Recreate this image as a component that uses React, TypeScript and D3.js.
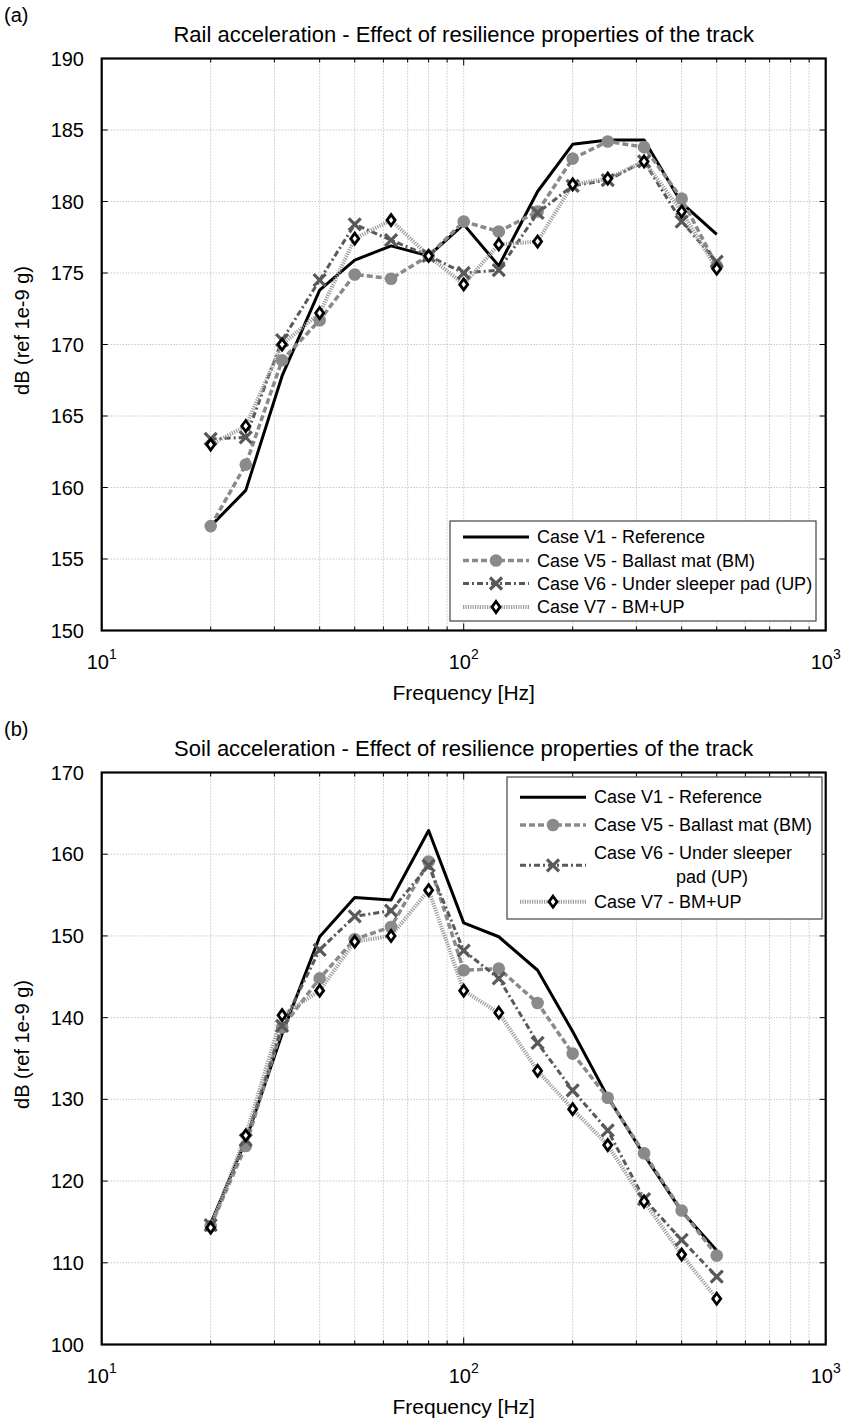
import React from 'react';
import * as d3 from 'd3';

// third-octave band centre frequencies [Hz]
const freqs = [20, 25, 31.5, 40, 50, 63, 80, 100, 125, 160, 200, 250, 315, 400, 500];

// (a) rail acceleration, dB ref 1e-9 g
const railV1 = [157.3, 159.8, 167.8, 173.8, 175.9, 176.9, 176.2, 178.4, 175.5, 180.7, 184.0, 184.3, 184.3, 179.9, 177.7];
const railV5 = [157.3, 161.6, 168.9, 171.7, 174.9, 174.6, 176.2, 178.6, 177.9, 179.3, 183.0, 184.2, 183.8, 180.2, 175.5];
const railV6 = [163.4, 163.5, 170.3, 174.5, 178.4, 177.3, 176.2, 175.0, 175.2, 179.2, 181.1, 181.5, 182.8, 178.6, 175.8];
const railV7 = [163.0, 164.3, 170.0, 172.2, 177.4, 178.7, 176.2, 174.2, 177.0, 177.2, 181.2, 181.6, 182.8, 179.3, 175.3];

// (b) soil acceleration, dB ref 1e-9 g
const soilV1 = [114.8, 125.0, 138.0, 149.9, 154.7, 154.4, 162.9, 151.6, 149.9, 145.8, 138.3, 130.3, 123.2, 116.3, 111.5];
const soilV5 = [114.5, 124.3, 138.8, 144.8, 149.6, 151.1, 159.1, 145.8, 146.0, 141.8, 135.6, 130.2, 123.4, 116.4, 110.9];
const soilV6 = [114.6, 125.0, 139.0, 148.3, 152.4, 153.1, 158.6, 148.2, 144.8, 136.9, 131.1, 126.2, 117.8, 112.8, 108.3];
const soilV7 = [114.3, 125.6, 140.3, 143.3, 149.3, 150.0, 155.6, 143.3, 140.6, 133.5, 128.8, 124.4, 117.5, 111.0, 105.6];

const railTicks = [150, 155, 160, 165, 170, 175, 180, 185, 190];
const soilTicks = [100, 110, 120, 130, 140, 150, 160, 170];
const decades = [10, 100, 1000];
const decadeExp = ['1', '2', '3'];
const minorFreqs = [20, 30, 40, 50, 60, 70, 80, 90, 200, 300, 400, 500, 600, 700, 800, 900];

const caseNames = ['Case V1 - Reference', 'Case V5 - Ballast mat (BM)', 'Case V6 - Under sleeper pad (UP)', 'Case V7 - BM+UP'];

const FONT = '"Liberation Sans", Arial, sans-serif';

// line / marker styles per case
const styles = [
  { stroke: '#000', width: 3, dash: null, marker: null },
  { stroke: '#8a8a8a', width: 3.5, dash: '6,3', marker: 'circle' },
  { stroke: '#595959', width: 3, dash: '6,3,2,3', marker: 'x' },
  { stroke: '#9c9c9c', width: 4, dash: '1.2,1.2', marker: 'diamond' },
];

const Marker = ({ kind, x, y }) => {
  if (kind === 'circle') return <circle cx={x} cy={y} r={6.3} fill="#8a8a8a" />;
  if (kind === 'x')
    return (
      <path d={`M${x - 6},${y - 6}L${x + 6},${y + 6}M${x - 6},${y + 6}L${x + 6},${y - 6}`}
        stroke="#595959" strokeWidth={3.2} fill="none" />
    );
  if (kind === 'diamond')
    return (
      <path d={`M${x},${y - 5.5}L${x + 4},${y}L${x},${y + 5.5}L${x - 4},${y}Z`}
        stroke="#000" strokeWidth={2.8} fill="#fff" />
    );
  return null;
};

const Panel = ({ top, letter, title, domain, ticks, series, legend }) => {
  const left = 101.7;
  const right = 825.7;
  const bottom = top + 572;
  const x = d3.scaleLog().domain([10, 1000]).range([left, right]);
  const y = d3.scaleLinear().domain(domain).range([bottom, top]);
  const line = d3.line<number>()
    .x((d, i) => x(freqs[i]))
    .y(d => y(d));
  const midX = (left + right) / 2;

  return (
    <g fontFamily={FONT} fill="#000">
      <text x={4} y={top - 37} fontSize={20}>{letter}</text>
      <text x={midX} y={top - 17} fontSize={22} textAnchor="middle">{title}</text>

      {/* grid */}
      {[...minorFreqs, 100].map(f => (
        <line key={'gx' + f} x1={x(f)} x2={x(f)} y1={top} y2={bottom}
          stroke="#adadad" strokeWidth={1} strokeDasharray="1,2" />
      ))}
      {ticks.map(t => (
        <line key={'gy' + t} x1={left} x2={right} y1={y(t)} y2={y(t)}
          stroke="#adadad" strokeWidth={1} strokeDasharray="1,2" />
      ))}

      {/* inward ticks */}
      {ticks.map(t => (
        <g key={'ty' + t}>
          <line x1={left} x2={left + 6} y1={y(t)} y2={y(t)} stroke="#000" strokeWidth={1} />
          <line x1={right} x2={right - 6} y1={y(t)} y2={y(t)} stroke="#000" strokeWidth={1} />
          <text x={84} y={y(t)} fontSize={20} textAnchor="end" dominantBaseline="central">{t}</text>
        </g>
      ))}
      {minorFreqs.map(f => (
        <g key={'tx' + f}>
          <line x1={x(f)} x2={x(f)} y1={bottom} y2={bottom - 4} stroke="#000" strokeWidth={1} />
          <line x1={x(f)} x2={x(f)} y1={top} y2={top + 4} stroke="#000" strokeWidth={1} />
        </g>
      ))}
      {decades.map((f, i) => (
        <g key={'dx' + f}>
          <line x1={x(f)} x2={x(f)} y1={bottom} y2={bottom - 7} stroke="#000" strokeWidth={1} />
          <line x1={x(f)} x2={x(f)} y1={top} y2={top + 7} stroke="#000" strokeWidth={1} />
          <text x={x(f)} y={bottom + 38} fontSize={20} textAnchor="middle">
            10<tspan dy={-10} fontSize={14}>{decadeExp[i]}</tspan>
          </text>
        </g>
      ))}

      {/* series */}
      {series.map((s, k) => (
        <path key={'s' + k} d={line(s)} fill="none" stroke={styles[k].stroke}
          strokeWidth={styles[k].width} strokeDasharray={styles[k].dash || undefined}
          strokeLinejoin="round" />
      ))}
      {series.map((s, k) => s.map((v, i) => (
        <Marker key={`m${k}-${i}`} kind={styles[k].marker} x={x(freqs[i])} y={y(v)} />
      )))}

      {/* frame */}
      <rect x={left} y={top} width={right - left} height={bottom - top} fill="none" stroke="#000" strokeWidth={2.2} />

      {/* legend */}
      <rect x={legend.x} y={legend.y} width={legend.w} height={legend.h} fill="#fff" stroke="#444" strokeWidth={1.2} />
      {caseNames.map((name, k) => {
        const ly = legend.rows[k];
        const lx0 = legend.x + legend.pad;
        const lx1 = lx0 + 66;
        const parts = legend.wrap && k === 2 ? ['Case V6 - Under sleeper', 'pad (UP)'] : [name];
        const lineY = parts.length > 1 ? ly + 12 : ly;
        return (
          <g key={'lg' + k}>
            <line x1={lx0} x2={lx1} y1={lineY} y2={lineY} stroke={styles[k].stroke}
              strokeWidth={styles[k].width} strokeDasharray={styles[k].dash || undefined} />
            <Marker kind={styles[k].marker} x={(lx0 + lx1) / 2} y={lineY} />
            {parts.map((p, j) => (
              <text key={j} x={lx1 + (j === 0 ? 8 : 90)} y={ly + j * 23.5} fontSize={18} dominantBaseline="central">{p}</text>
            ))}
          </g>
        );
      })}

      <text x={midX} y={bottom + 69} fontSize={21} textAnchor="middle">Frequency [Hz]</text>
      <text transform={`translate(22, ${(top + bottom) / 2 - 14}) rotate(-90)`} fontSize={20}
        textAnchor="middle" dominantBaseline="central">dB (ref 1e-9 g)</text>
    </g>
  );
};

const App = () => (
  <svg width={845} height={1420} style={{ position: 'absolute', left: 0, top: 0, background: '#fff' }}>
    <Panel top={58.5} letter="(a)" title="Rail acceleration - Effect of resilience properties of the track"
      domain={[150, 190]} ticks={railTicks} series={[railV1, railV5, railV6, railV7]}
      legend={{ x: 450, y: 521, w: 366, h: 100, pad: 13, rows: [537, 560.5, 583.5, 607], wrap: false }} />
    <Panel top={772.5} letter="(b)" title="Soil acceleration - Effect of resilience properties of the track"
      domain={[100, 170]} ticks={soilTicks} series={[soilV1, soilV5, soilV6, soilV7]}
      legend={{ x: 507, y: 777, w: 315, h: 142, pad: 13, rows: [797.3, 825, 853.3, 901.7], wrap: true }} />
  </svg>
);

export default App;
